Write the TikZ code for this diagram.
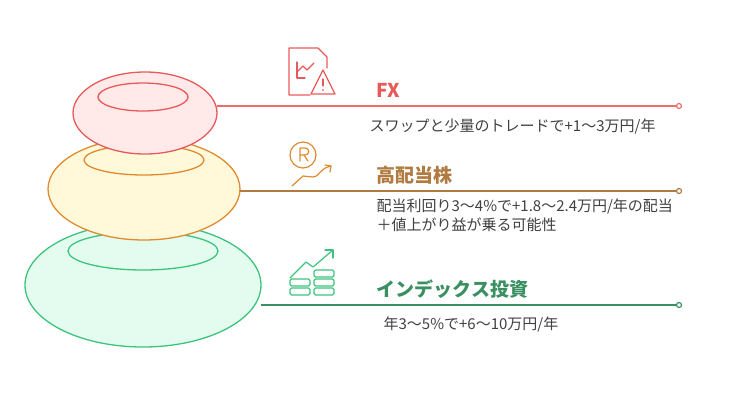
\documentclass[tikz,border=0pt]{standalone}
\usepackage{fontspec}
\setmainfont{Noto Sans CJK JP}
\begin{document}
\begin{tikzpicture}[x=1pt,y=-1pt,line width=1.3pt,
 lbl/.style={anchor=west,font=\fontsize{15}{17}\selectfont,text=black!75,inner sep=0},
 ttl/.style={anchor=west,font=\fontsize{19}{21}\selectfont\bfseries,inner sep=0},
 dot/.style={circle,draw,fill=white,line width=1.2pt,minimum size=5pt,inner sep=0}]
\definecolor{rd}{HTML}{E85A5A}\definecolor{rdf}{HTML}{FFE9E9}
\definecolor{rdl}{HTML}{F06A6A}
\definecolor{yo}{HTML}{E08A30}\definecolor{yof}{HTML}{FFF9D9}
\definecolor{br}{HTML}{B07A40}
\definecolor{gr}{HTML}{3CC47C}\definecolor{grf}{HTML}{E4FCEF}
\definecolor{gd}{HTML}{3A9062}
\useasboundingbox (0,0) rectangle (746,408);
% donuts
\draw[gr,fill=grf] (143,285) ellipse [x radius=118,y radius=62];
\draw[gr] (143,251) ellipse [x radius=75,y radius=19];
\draw[yo,fill=yof] (144,189) ellipse [x radius=96,y radius=51];
\draw[yo] (144,160) ellipse [x radius=60,y radius=15];
\draw[rd,fill=rdf] (145,113) ellipse [x radius=72,y radius=41];
\draw[rd] (143,97) ellipse [x radius=45,y radius=14];
% connectors
\coordinate (r0) at (217,106); \node[dot,draw=rdl] (r1) at (679,106) {};
\coordinate (b0) at (240,191); \node[dot,draw=br] (b1) at (679,191) {};
\coordinate (g0) at (261,305); \node[dot,draw=gd] (g1) at (679,305) {};
\draw[rdl] (r0) -- (r1); \draw[br] (b0) -- (b1); \draw[gd] (g0) -- (g1);
% texts
\node[ttl,text=rd] (t1) at (376,90) {FX};
\node[lbl] (d1) at (369,127) {スワップと少量のトレードで+1〜3万円/年};
\node[ttl,text=br] (t2) at (376,175) {高配当株};
\node[lbl] (d2) at (376,207) {配当利回り3〜4\%で+1.8〜2.4万円/年の配当};
\node[lbl] (d2b) at (376,225) {＋値上がり益が乗る可能性};
\node[ttl,text=gd] (t3) at (376,289) {インデックス投資};
\node[lbl] (d3) at (383,325) {年3〜5\%で+6〜10万円/年};
% FX icon
\begin{scope}[rd,line width=1.2pt,line join=round,line cap=round]
\draw (310,95) -- (289,95) -- (289,48) -- (318,48) -- (327,57) -- (327,68);
\draw (297,62) -- (297,78) -- (305,78);
\draw (297,72) -- (303,66) -- (307,70) -- (314,63);
\draw (323,70) -- (311,94) -- (335,94) -- cycle;
\draw (323,79) -- (323,86); \fill (323,90) circle (1pt);
\end{scope}
% stock icon
\begin{scope}[yo,line width=1.2pt,line join=round,line cap=round]
\draw (303,155) circle (13);
\draw (300,161) -- (300,148) -- (305,148) .. controls (310,148) and (310,155) .. (305,155) -- (300,155);
\draw (304,155) -- (308,161);
\draw (292,186) -- (303,176) -- (313,177) .. controls (318,178) and (320,168) .. (331,166);
\draw (325,165) -- (331,166) -- (330,172);
\end{scope}
% index icon
\begin{scope}[gr,line width=1.2pt,line join=round,line cap=round]
\draw (290,278) -- (306,262) -- (313,267) -- (333,250);
\draw (325,250) -- (333,250) -- (333,258);
\foreach \y in {270,279,288} \draw[rounded corners=1.5pt] (314,\y) rectangle (334,\y+7);
\foreach \y in {279,288} \draw[rounded corners=1.5pt] (290,\y) rectangle (310,\y+7);
\end{scope}
\end{tikzpicture}
\end{document}
